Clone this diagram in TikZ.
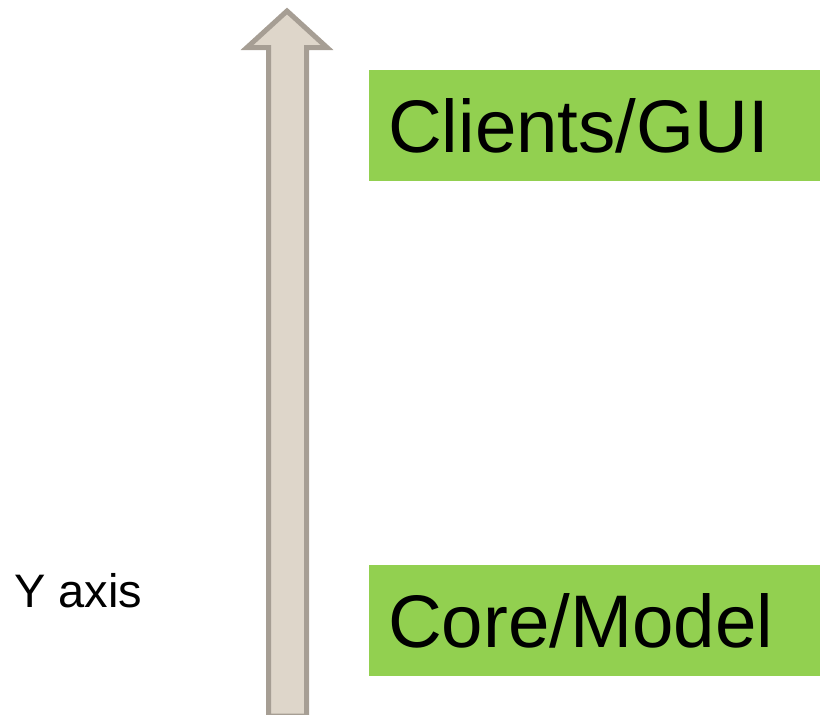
\documentclass[tikz,border=0pt]{standalone}
\usepackage{fontspec}
\setmainfont{Liberation Sans}
\definecolor{arrowfill}{RGB}{222,214,202}
\definecolor{arrowline}{RGB}{166,158,148}
\definecolor{boxgreen}{RGB}{146,208,80}
\begin{document}
\begin{tikzpicture}[x=1pt,y=-1pt,
  layerbox/.style={fill=boxgreen,draw=none},
  bigtext/.style={anchor=base west,inner sep=0pt,font=\fontsize{74.5}{80}\selectfont},
  axistext/.style={anchor=base west,inner sep=0pt,font=\fontsize{47}{52}\selectfont}]
\useasboundingbox (0,0) rectangle (820,715);
% axis arrow
\draw[fill=arrowfill,draw=arrowline,line width=5pt,line join=miter]
  (268.5,716) -- (268.5,47.5) -- (247,47.5) -- (287,11) -- (327,47.5) -- (306.5,47.5) -- (306.5,716) -- cycle;
% layer boxes
\fill[layerbox] (369,70) rectangle (820,181);
\fill[layerbox] (369,565) rectangle (820,676);
\node[bigtext] (gui) at (388,152) {Clients/GUI};
\node[bigtext] (core) at (388,647) {Core/Model};
\node[axistext] (yaxis) at (14,607) {Y axis};
\end{tikzpicture}
\end{document}
